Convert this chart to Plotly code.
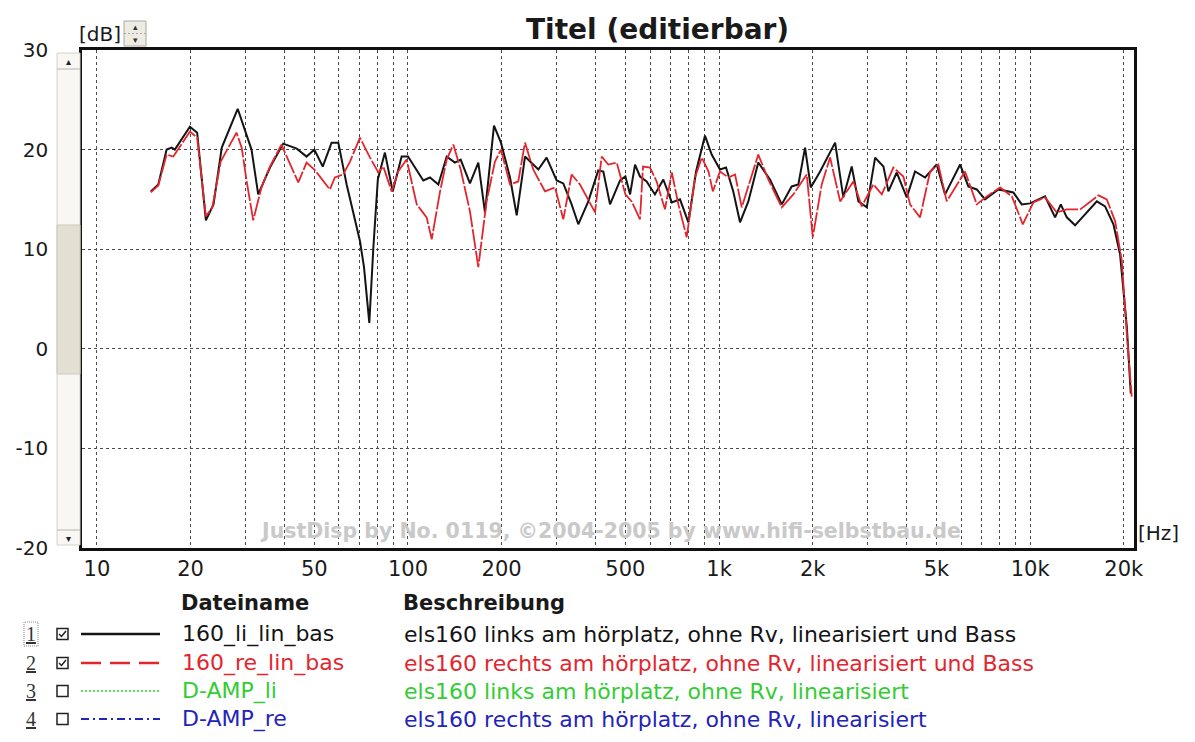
import plotly.graph_objects as go

# ---------------- data ----------------
freq_li = [14.9, 15.75, 16.75, 17.4, 17.8, 19.9, 21.0, 22.4, 23.7, 25.2, 28.35, 31.4, 33.0, 36.0, 39.7,
           43.9, 47.2, 50.0, 53.2, 56.8, 59.7, 63.5, 70.1, 72.2, 75.1, 77.4, 80.0, 84.3, 89.3, 95.4,
           100, 112, 117.7, 125.2, 133.2, 141.6, 147.7, 158.2, 168.3, 176.8, 189, 199, 212.8, 223.6,
           237.8, 249.8, 262.4, 279, 300.6, 315.7, 335.8, 352.8, 379.9, 409, 424.6, 446.2, 480.6, 500,
           517.6, 537, 557, 585, 622, 662, 705, 749, 797, 843.5, 901, 947, 1007, 1053, 1111, 1168,
           1242, 1337, 1458, 1591, 1712, 1799, 1890, 1972, 2113, 2361, 2509, 2670, 2805, 2985, 3175,
           3377, 3503, 3726, 4013, 4267, 4596, 5009, 5328, 5957, 6329, 6739, 7163, 7907, 8836, 9400,
           10000, 11170, 12030, 12550, 13120, 13950, 15210, 16390, 17420, 18530, 19460, 20460, 21070]
db_li = [15.8, 16.5, 20.0, 20.2, 20.0, 22.3, 21.7, 12.9, 14.5, 20.2, 24.1, 20.0, 15.5, 18.2, 20.6,
         20.1, 19.3, 20.0, 18.3, 20.7, 20.7, 16.5, 10.8, 8.2, 2.6, 10.2, 17.0, 19.7, 15.8, 19.3,
         19.3, 16.9, 17.2, 16.5, 19.3, 18.7, 19.0, 16.6, 18.7, 13.7, 22.4, 20.7, 17.2, 13.4,
         19.3, 18.7, 18.0, 19.2, 16.9, 16.6, 14.5, 12.5, 14.8, 17.9, 17.8, 14.5, 16.9, 17.3,
         15.5, 18.5, 17.3, 16.8, 15.5, 17.0, 14.7, 15.0, 12.7, 17.8, 21.4, 19.5, 18.0, 18.2, 15.8, 12.7,
         14.8, 18.7, 17.0, 14.5, 16.3, 16.5, 20.2, 16.2, 17.8, 20.7, 15.2, 18.3, 14.8, 14.2, 19.2,
         18.3, 15.8, 17.7, 15.2, 17.8, 17.2, 18.5, 15.5, 18.5, 16.3, 16.0, 15.0, 16.0, 15.7, 14.5,
         14.6, 15.3, 13.2, 14.5, 13.2, 12.4, 13.7, 14.8, 14.3, 12.5, 9.5, 2.2, -4.5]

freq_re = [14.9, 15.75, 16.75, 17.6, 19.9, 21.0, 22.4, 23.5, 25.0, 28.1, 29.2, 30.3, 31.8, 33.8, 36.0,
           39.2, 44.4, 47.2, 50.0, 56.1, 58.2, 61.9, 65.1, 70.1, 75.5, 80.3, 83.3, 88.6, 93.0, 99.0,
           106.7, 114.8, 119.2, 126.8, 133.2, 139.9, 147.7, 158.2, 168.3, 178.9, 190.4, 199, 212.8,
           226.2, 237.8, 252.7, 275.8, 297, 315.7, 335.8, 357.3, 399.3, 419.4, 440.6, 468.8, 500,
           523.6, 557, 569.6, 600, 630, 670, 705, 740, 787, 837, 880, 925, 955, 1007, 1072, 1126,
           1183, 1337, 1440, 1591, 1733, 1914, 2001, 2138, 2275, 2451, 2703, 2876, 3134, 3336, 3634,
           3914, 4112, 4429, 4770, 5070, 5395, 6178, 6739, 7255, 8008, 8735, 9474, 10250, 11170,
           12180, 13120, 14490, 16590, 17640, 18770, 19720, 20460, 21220]
db_re = [15.7, 16.4, 19.5, 19.3, 21.8, 21.2, 13.3, 14.2, 18.8, 21.7, 20.2, 16.8, 12.9, 16.2, 18.3,
         20.5, 16.7, 18.7, 18.0, 16.0, 17.2, 17.5, 18.8, 21.2, 19.2, 17.7, 18.3, 15.8, 17.8, 19.0,
         14.5, 13.2, 11.0, 15.8, 19.0, 20.5, 18.0, 13.8, 8.2, 14.8, 18.8, 20.0, 16.5,
         16.8, 20.7, 18.0, 15.8, 16.2, 13.0, 17.5, 16.5, 13.7, 19.3, 18.5, 18.7, 15.5,
         14.8, 13.0, 18.3, 18.2, 16.8, 14.0, 17.7, 14.5, 11.2, 17.2, 19.2, 17.8, 15.8, 17.8, 17.2, 17.5,
         14.2, 19.5, 17.0, 14.2, 15.5, 17.5, 11.2, 16.5, 19.2, 14.8, 16.8, 14.3, 16.5, 15.5, 18.2,
         17.3, 14.5, 13.2, 17.8, 18.5, 14.8, 17.8, 14.5, 15.3, 16.2, 15.3, 12.5, 14.7, 15.2,
         13.7, 14.0, 14.0, 15.4, 15.0, 12.8, 8.8, 1.5, -4.8]

assert len(freq_li) == len(db_li)
assert len(freq_re) == len(db_re)

grid_freqs = [10, 20, 30, 40, 50, 60, 70, 80, 90,
              100, 200, 300, 400, 500, 600, 700, 800, 900,
              1000, 2000, 3000, 4000, 5000, 6000, 7000, 8000, 9000,
              10000, 20000]
label_freqs = [10, 20, 50, 100, 200, 500, 1000, 2000, 5000, 10000, 20000]
label_texts = ["10", "20", "50", "100", "200", "500", "1k", "2k", "5k", "10k", "20k"]
y_ticks = [-20, -10, 0, 10, 20, 30]
y_texts = ["-20", "-10", "0", "10", "20", "30"]

files = ["160_li_lin_bas", "160_re_lin_bas", "D-AMP_li", "D-AMP_re"]
descr = ["els160 links am hörplatz, ohne Rv, linearisiert und Bass",
         "els160 rechts am hörplatz, ohne Rv, linearisiert und Bass",
         "els160 links am hörplatz, ohne Rv, linearisiert",
         "els160 rechts am hörplatz, ohne Rv, linearisiert"]
checked = [True, True, False, False]

# ---------------- styles ----------------
W, H = 1195, 742
L, R, T, B = 82, 1134, 50, 548
FONT = "DejaVu Sans"
C_BLACK = "#141414"
C_RED = "#e3262e"
C_GREEN = "#33cc33"
C_BLUE = "#2424b8"
row_colors = [C_BLACK, C_RED, C_GREEN, C_BLUE]
row_dash = ["solid", "20px,9px", "2px,2px", "8px,4px,2px,4px"]
row_width = [2.5, 2.5, 1.5, 1.8]


def px(x):
    return (x - L) / (R - L)


def py(y):
    return (B - y) / (B - T)


tick_text = [label_texts[label_freqs.index(f)] if f in label_freqs else "" for f in grid_freqs]

fig = go.Figure()
fig.add_trace(go.Scatter(x=freq_li, y=db_li, mode="lines",
                         line=dict(color=C_BLACK, width=2), hoverinfo="skip", showlegend=False))
fig.add_trace(go.Scatter(x=freq_re, y=db_re, mode="lines",
                         line=dict(color=C_RED, width=1.8, dash="20px,2px"), hoverinfo="skip",
                         showlegend=False))

annotations = []
shapes = []


def txt(x, y, text, size=22, color="#1a1a1a", xanchor="left", family=FONT):
    annotations.append(dict(x=px(x), y=py(y), xref="paper", yref="paper", text=text,
                            showarrow=False, xanchor=xanchor, yanchor="middle",
                            font=dict(family=family, size=size, color=color)))


# title and unit labels
txt(657, 30, "<b>Titel (editierbar)</b>", size=28, xanchor="center")
txt(77, 34, "[dB]", size=20)
txt(1136, 533, "[Hz]", size=20)
txt(610, 531, "<b>JustDisp by No. 0119, ©2004-2005 by www.hifi-selbstbau.de</b>",
    size=20.5, color="#c9c9c9", xanchor="center")

# spinner next to [dB]
shapes.append(dict(type="rect", xref="paper", yref="paper", x0=px(124), x1=px(146), y0=py(46), y1=py(21),
                   line=dict(color="#a8a8a8", width=1), fillcolor="#eeebe3"))
shapes.append(dict(type="line", xref="paper", yref="paper", x0=px(124), x1=px(146), y0=py(33.5), y1=py(33.5),
                   line=dict(color="#a8a8a8", width=1, dash="2px,2px")))
txt(135, 27, "▴", size=9, color="#333", xanchor="center")
txt(135, 40, "▾", size=9, color="#333", xanchor="center")

# scrollbar left of plot
shapes.append(dict(type="rect", xref="paper", yref="paper", x0=px(57), x1=px(80), y0=py(545), y1=py(53),
                   line=dict(color="#d6d2c6", width=1), fillcolor="#f8f7f3"))
shapes.append(dict(type="rect", xref="paper", yref="paper", x0=px(57), x1=px(80), y0=py(374), y1=py(225),
                   line=dict(color="#cfc9bb", width=1), fillcolor="#e3dfd3"))
shapes.append(dict(type="line", xref="paper", yref="paper", x0=px(57), x1=px(80), y0=py(69), y1=py(69),
                   line=dict(color="#b8b4a8", width=1)))
shapes.append(dict(type="line", xref="paper", yref="paper", x0=px(57), x1=px(80), y0=py(530), y1=py(530),
                   line=dict(color="#b8b4a8", width=1)))
txt(68, 61, "▴", size=10, color="#222", xanchor="center")
txt(68, 538, "▾", size=10, color="#222", xanchor="center")

# legend table
txt(179, 603, "<b>Dateiname</b>", size=21)
txt(401, 603, "<b>Beschreibung</b>", size=21)
row_y = [634, 663, 691, 719]
for i in range(4):
    yy = row_y[i]
    txt(31, yy, "<u>%d</u>" % (i + 1), size=20, color="#333", xanchor="center", family="Liberation Serif")
    shapes.append(dict(type="rect", xref="paper", yref="paper", x0=px(57), x1=px(68),
                       y0=py(yy + 5.5), y1=py(yy - 5.5), line=dict(color="#222", width=1.5)))
    if checked[i]:
        shapes.append(dict(type="path", xref="paper", yref="paper",
                           path="M %f %f L %f %f L %f %f" % (px(59), py(yy), px(61.5), py(yy + 2.5),
                                                             px(66), py(yy - 3)),
                           line=dict(color="#222", width=1.5)))
    shapes.append(dict(type="line", xref="paper", yref="paper", x0=px(81), x1=px(160), y0=py(yy), y1=py(yy),
                       line=dict(color=row_colors[i], width=row_width[i], dash=row_dash[i])))
    txt(180, yy, files[i], size=22, color=row_colors[i])
    txt(402, yy, descr[i], size=22, color=row_colors[i])

# focus box around row number 1
shapes.append(dict(type="rect", xref="paper", yref="paper", x0=px(24), x1=px(38), y0=py(646), y1=py(622),
                   line=dict(color="#888", width=1, dash="1px,1px")))

fig.update_layout(
    width=W, height=H,
    margin=dict(l=L, r=W - R, t=T, b=H - B, pad=0),
    paper_bgcolor="white", plot_bgcolor="white",
    showlegend=False,
    annotations=annotations,
    shapes=shapes,
    font=dict(family=FONT, size=21, color="#1a1a1a"),
    xaxis=dict(type="log", range=[0.952, 4.334], tickvals=grid_freqs, ticktext=tick_text,
               ticks="", showgrid=True, gridcolor="#4a4a4a", gridwidth=1, griddash="dot",
               showline=True, linecolor="#111", linewidth=2.5, mirror=True, zeroline=False,
               tickfont=dict(family=FONT, size=21, color="#1a1a1a"), fixedrange=True),
    yaxis=dict(range=[-20, 30], tickvals=y_ticks, ticktext=y_texts, ticks="", showgrid=True,
               gridcolor="#4a4a4a", gridwidth=1, griddash="dot", showline=True, linecolor="#111",
               linewidth=2.5, mirror=True, zeroline=False, ticklabelstandoff=27,
               tickfont=dict(family=FONT, size=20, color="#1a1a1a"), fixedrange=True),
)

fig.write_html("out.html")
